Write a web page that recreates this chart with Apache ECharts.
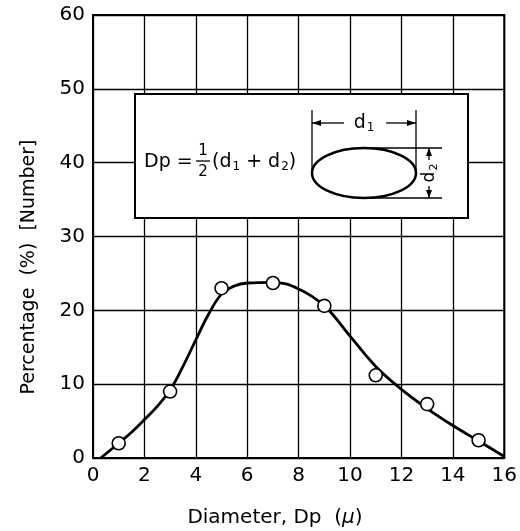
<!DOCTYPE html>
<html>
<head>
<meta charset="utf-8">
<script src="https://cdn.jsdelivr.net/npm/echarts@6/dist/echarts.min.js"></script>
<style>
html, body { margin: 0; padding: 0; background: #fff; }
#chart { width: 520px; height: 531px; }
</style>
</head>
<body>
<div id="chart"></div>
<script>
// measured points (open circles)
var pointX = [1, 3, 5, 7, 9, 11, 13, 15];
var pointY = [2.0, 9.0, 23.0, 23.7, 20.6, 11.2, 7.3, 2.4];
// fitted curve
var curveX = [0.3, 1, 1.5, 2, 2.5, 3, 3.5, 4, 4.5, 5, 5.5, 6, 7, 8, 9, 10, 11, 12, 13, 14, 15, 16];
var curveY = [0, 2.0, 3.5, 5.2, 7.0, 9.2, 12.4, 16.0, 19.5, 22.2, 23.3, 23.7, 23.8, 22.9, 20.6, 16.5, 12.4, 9.3, 6.7, 4.4, 2.3, 0.2];

var FONT = 'DejaVu Sans';
var INK = '#000';

function pairs(xs, ys) {
    var out = [];
    for (var i = 0; i < xs.length; i++) out.push([xs[i], ys[i]]);
    return out;
}

function seg(x1, y1, x2, y2, w) {
    return {
        type: 'line', z: 20,
        shape: {x1: x1, y1: y1, x2: x2, y2: y2},
        style: {stroke: INK, lineWidth: w || 1.3}
    };
}
function head(pts) {
    return {type: 'polygon', z: 20, shape: {points: pts}, style: {fill: INK}};
}
// rich text with subscript support: {n|..} normal, {s|..} subscript
function label(txt, x, y, size, opts) {
    var el = {
        type: 'text', z: 20, x: x, y: y,
        style: {
            text: txt, fill: INK, fontFamily: FONT, fontSize: size,
            align: 'left', verticalAlign: 'middle',
            rich: {
                n: {fontFamily: FONT, fontSize: size, fill: INK},
                s: {fontFamily: FONT, fontSize: Math.round(size * 0.65), fill: INK, padding: [Math.round(size * 0.45), 0, 0, 1]},
                i: {fontFamily: FONT, fontSize: size, fontStyle: 'italic', fill: INK}
            }
        }
    };
    if (opts) {
        for (var k in opts) {
            if (k === 'rotation') el.rotation = opts[k];
            else el.style[k] = opts[k];
        }
    }
    return el;
}

var option = {
    backgroundColor: '#fff',
    animation: false,
    grid: {
        left: 93, top: 15, width: 415, height: 443,
        show: true, borderColor: '#000', borderWidth: 2
    },
    xAxis: {
        type: 'value',
        min: 0, max: 16, interval: 2,
        axisLine: {show: true, lineStyle: {color: '#000', width: 2}},
        axisTick: {show: false},
        axisLabel: {color: INK, fontFamily: FONT, fontSize: 20, margin: 8},
        splitLine: {show: true, lineStyle: {color: '#000', width: 1.3}}
    },
    yAxis: {
        type: 'value',
        min: 0, max: 60, interval: 10,
        axisLine: {show: true, lineStyle: {color: '#000', width: 2}},
        axisTick: {show: false},
        axisLabel: {color: INK, fontFamily: FONT, fontSize: 20, margin: 8},
        splitLine: {show: true, lineStyle: {color: '#000', width: 1.3}}
    },
    series: [
        {
            name: 'curve',
            type: 'line',
            data: pairs(curveX, curveY),
            showSymbol: false,
            smooth: 0.4,
            lineStyle: {color: '#000', width: 2.8},
            z: 3
        },
        {
            name: 'measured',
            type: 'scatter',
            data: pairs(pointX, pointY),
            symbol: 'circle',
            symbolSize: 13,
            itemStyle: {color: '#fff', borderColor: '#000', borderWidth: 1.6, opacity: 1},
            z: 4
        }
    ],
    graphic: [
        // inset box
        {
            type: 'rect', z: 10,
            shape: {x: 135, y: 94, width: 333, height: 124},
            style: {fill: '#fff', stroke: '#000', lineWidth: 2}
        },
        label('Dp =', 144, 162, 19),
        label('1', 203, 151, 15, {align: 'center'}),
        seg(196, 161, 210, 161, 1.3),
        label('2', 203, 172, 15, {align: 'center'}),
        label('{n|(d}{s|1}{n| + d}{s|2}{n|)}', 212, 162, 19),
        // ellipse sketch
        {
            type: 'ellipse', z: 20,
            shape: {cx: 364, cy: 173, rx: 52, ry: 25},
            style: {fill: 'none', stroke: '#000', lineWidth: 2.5}
        },
        seg(312, 110, 312, 172),
        seg(416, 110, 416, 172),
        seg(312, 123, 344, 123),
        seg(386, 123, 416, 123),
        head([[312, 123], [321, 120], [321, 126]]),
        head([[416, 123], [407, 120], [407, 126]]),
        label('{n|d}{s|1}', 364, 123, 19, {align: 'center'}),
        seg(364, 148, 442, 148),
        seg(368, 198, 442, 198),
        seg(429, 148, 429, 160),
        seg(429, 186, 429, 198),
        head([[429, 148], [426, 156], [432, 156]]),
        head([[429, 198], [426, 190], [432, 190]]),
        label('{n|d}{s|2}', 430, 173, 17, {align: 'center', rotation: Math.PI / 2}),
        // axis titles
        label('{n|Diameter, Dp  (}{i|\u03bc}{n|)}', 275, 518, 20, {align: 'center'}),
        label('Percentage  (%)  [Number]', 29, 267, 19, {align: 'center', rotation: Math.PI / 2})
    ]
};

var chart = echarts.init(document.getElementById('chart'));
chart.setOption(option);
</script>
</body>
</html>
